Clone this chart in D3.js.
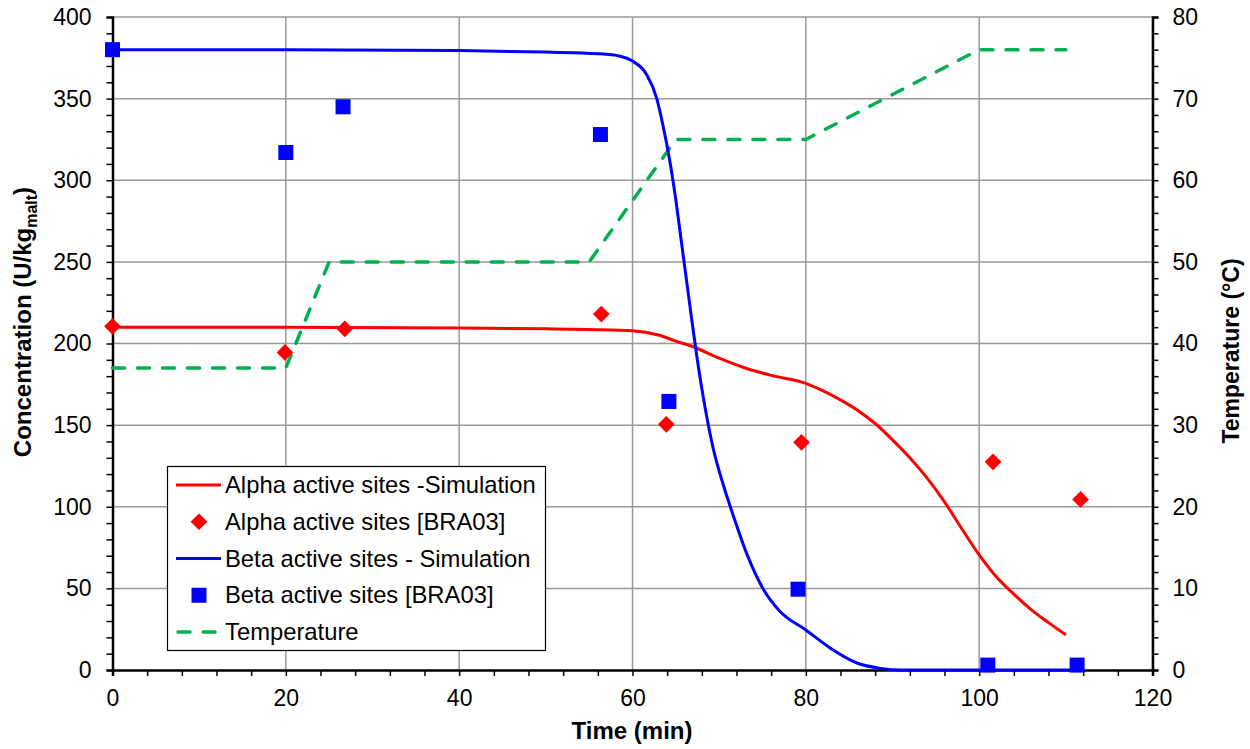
<!DOCTYPE html>
<html>
<head>
<meta charset="utf-8">
<script src="https://cdn.jsdelivr.net/npm/d3@7"></script>
<style>
  body { margin: 0; background: #fff; }
  svg { font-family: "Liberation Sans", Arial, sans-serif; }
</style>
</head>
<body>
<div class="chart"></div>
<script>
// simulation curves (time in min)
var alphaSimT = [0, 20, 40, 50, 55, 60, 63, 65, 67, 70, 73, 76, 80, 82, 84, 86, 88, 90, 92, 94, 96, 98, 100, 102, 104, 106, 108, 110];
var alphaSimV = [210, 210, 209.5, 209, 208.5, 207.8, 205.2, 201.5, 198, 191, 185, 180.5, 175.6, 171, 165.5, 159, 151, 141, 130, 117.5, 103, 86.5, 70.5, 57, 46.5, 37, 29, 21.5];
var betaSimT = [0, 20, 40, 50, 56, 58.6, 60, 61.6, 62.8, 63.5, 64.3, 65, 65.6, 66.2, 66.8, 67.4, 68.4, 69.3, 70.5, 71.6, 73.2, 75.1, 77, 80, 82.8, 85.9, 88.6, 91, 100, 111];
var betaSimV = [380, 380, 379.5, 378.5, 377.5, 376, 373, 365, 350, 334, 312, 288, 264, 240, 216, 193, 160, 136, 113, 95, 71, 49.5, 36, 24.5, 13.5, 4.3, 1, 0, 0, 0];
// measurements [BRA03]
var alphaExpT = [0, 19.9, 26.8, 56.4, 63.9, 79.5, 101.6, 111.7];
var alphaExpV = [210.5, 194.5, 209, 218, 150.5, 139.5, 127.5, 104.5];
var betaExpT = [0, 20, 26.6, 56.3, 64.2, 79.1, 101, 111.3];
var betaExpV = [380, 317, 345, 328, 164.5, 49.5, 3, 3];
// mashing temperature profile
var tempT = [0, 20, 25, 55, 65, 80, 100, 110];
var tempV = [37, 37, 50, 50, 65, 65, 76, 76];

var xTicks = [0, 20, 40, 60, 80, 100, 120];
var yTicks = [0, 50, 100, 150, 200, 250, 300, 350, 400];
var y2Ticks = [0, 10, 20, 30, 40, 50, 60, 70, 80];

var legendItems = ["Alpha active sites -Simulation", "Alpha active sites [BRA03]", "Beta active sites - Simulation", "Beta active sites [BRA03]", "Temperature"];

var W = 1250, H = 749;
var pLeft = 112.5, pRight = 1152.5, pTop = 17, pBottom = 670;

var svg = d3.select(".chart").append("svg")
    .attr("width", W)
    .attr("height", H);

var x = d3.scaleLinear().domain([0, 120]).range([pLeft, pRight]);
var y = d3.scaleLinear().domain([0, 400]).range([pBottom, pTop]);
var y2 = d3.scaleLinear().domain([0, 80]).range([pBottom, pTop]);

// grid
svg.append("g").selectAll("line").data(xTicks.slice(1)).enter().append("line")
    .attr("x1", d => x(d)).attr("x2", d => x(d))
    .attr("y1", pTop).attr("y2", pBottom)
    .attr("stroke", "#999").attr("stroke-width", 1.5);
svg.append("g").selectAll("line").data(yTicks.slice(1)).enter().append("line")
    .attr("x1", pLeft).attr("x2", pRight)
    .attr("y1", d => y(d)).attr("y2", d => y(d))
    .attr("stroke", "#999").attr("stroke-width", 1.5);

// axes
var fs = "23px";
var xAxis = svg.append("g").attr("transform", "translate(0," + pBottom + ")")
    .call(d3.axisBottom(x).tickValues(d3.range(0, 121, 4)).tickSize(6)
        .tickFormat(d => xTicks.indexOf(d) >= 0 ? d : ""));
var yAxis = svg.append("g").attr("transform", "translate(" + pLeft + ",0)")
    .call(d3.axisLeft(y).tickValues(d3.range(0, 401, 10)).tickSize(6)
        .tickFormat(d => yTicks.indexOf(d) >= 0 ? d : ""));
var y2Axis = svg.append("g").attr("transform", "translate(" + pRight + ",0)")
    .call(d3.axisRight(y2).tickValues(d3.range(0, 81, 2)).tickSize(6)
        .tickFormat(d => y2Ticks.indexOf(d) >= 0 ? d : ""));

[xAxis, yAxis, y2Axis].forEach(function (a) {
    a.select(".domain").attr("stroke", "#000").attr("stroke-width", 2.5);
    a.selectAll(".tick line").attr("stroke", "#000").attr("stroke-width", 1.5);
    a.selectAll("text").attr("fill", "#000").style("font-size", fs)
        .attr("font-family", "Liberation Sans, Arial, sans-serif");
});
xAxis.selectAll("text").attr("y", 20);
yAxis.selectAll("text").attr("x", -21);
y2Axis.selectAll("text").attr("x", 20);

// axis titles
svg.append("text")
    .attr("x", 632).attr("y", 739)
    .attr("text-anchor", "middle")
    .style("font-size", "24px").style("font-weight", "bold")
    .text("Time (min)");

var yt = svg.append("text")
    .attr("transform", "translate(31,322) rotate(-90)")
    .attr("text-anchor", "middle")
    .style("font-size", "24px").style("font-weight", "bold");
yt.append("tspan").text("Concentration (U/kg");
yt.append("tspan").attr("dy", 6).style("font-size", "16px").text("malt");
yt.append("tspan").attr("dy", -6).text(")");

svg.append("text")
    .attr("transform", "translate(1239,351) rotate(-90)")
    .attr("text-anchor", "middle")
    .style("font-size", "23px").style("font-weight", "bold")
    .text("Temperature (°C)");

// series
var lineXY = d3.line().x(d => x(d[0])).y(d => y(d[1])).curve(d3.curveMonotoneX);
var lineT = d3.line().x(d => x(d[0])).y(d => y2(d[1]));

svg.append("path")
    .datum(tempT.map((t, i) => [t, tempV[i]]))
    .attr("d", lineT)
    .attr("fill", "none").attr("stroke", "#00b050").attr("stroke-width", 3.5)
    .attr("stroke-dasharray", "12,13").attr("stroke-linecap", "round");

svg.append("path")
    .datum(alphaSimT.map((t, i) => [t, alphaSimV[i]]))
    .attr("d", lineXY)
    .attr("fill", "none").attr("stroke", "#ff0000").attr("stroke-width", 3);

svg.append("path")
    .datum(betaSimT.map((t, i) => [t, betaSimV[i]]))
    .attr("d", lineXY)
    .attr("fill", "none").attr("stroke", "#0000ff").attr("stroke-width", 3);

var diamond = d3.symbol().type(d3.symbolSquare).size(140);
svg.append("g").selectAll("path").data(alphaExpT).enter().append("path")
    .attr("d", diamond)
    .attr("transform", (d, i) => "translate(" + x(d) + "," + y(alphaExpV[i]) + ") rotate(45)")
    .attr("fill", "#ff0000");

svg.append("g").selectAll("rect").data(betaExpT).enter().append("rect")
    .attr("x", d => x(d) - 7.5)
    .attr("y", (d, i) => y(betaExpV[i]) - 7.5)
    .attr("width", 15).attr("height", 15)
    .attr("fill", "#0000ff");

// legend
var lg = svg.append("g");
lg.append("rect")
    .attr("x", 167.5).attr("y", 466.5)
    .attr("width", 378).attr("height", 184)
    .attr("fill", "#fff").attr("stroke", "#000").attr("stroke-width", 1.2);

var rowY = d3.scalePoint().domain(legendItems).range([485, 632]);
legendItems.forEach(function (name, i) {
    var cy = rowY(name);
    if (i == 0 || i == 2) {
        lg.append("line").attr("x1", 176).attr("x2", 221).attr("y1", cy).attr("y2", cy)
            .attr("stroke", i == 0 ? "#ff0000" : "#0000ff").attr("stroke-width", 3);
    } else if (i == 1) {
        lg.append("path").attr("d", diamond)
            .attr("transform", "translate(199," + cy + ") rotate(45)")
            .attr("fill", "#ff0000");
    } else if (i == 3) {
        lg.append("rect").attr("x", 191.5).attr("y", cy - 7.5).attr("width", 15).attr("height", 15)
            .attr("fill", "#0000ff");
    } else {
        lg.append("line").attr("x1", 178).attr("x2", 221).attr("y1", cy).attr("y2", cy)
            .attr("stroke", "#00b050").attr("stroke-width", 3.5)
            .attr("stroke-dasharray", "12,13").attr("stroke-linecap", "round");
    }
    lg.append("text")
        .attr("x", 225).attr("y", cy + 8)
        .style("font-size", "23.8px")
        .text(name);
});
</script>
</body>
</html>
